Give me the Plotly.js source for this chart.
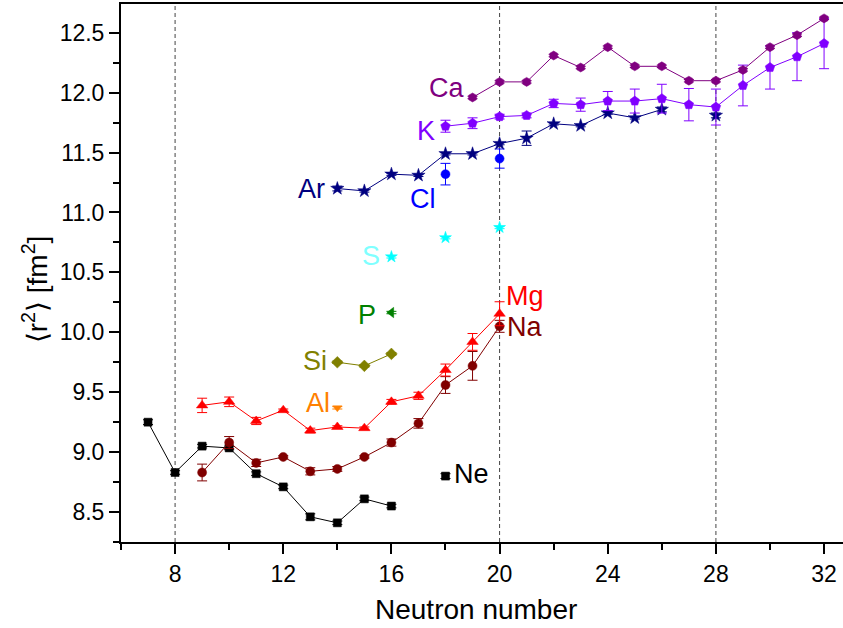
<!DOCTYPE html>
<html><head><meta charset="utf-8">
<script src="https://cdn.plot.ly/plotly-3.0.1.min.js"></script>
<style>body{margin:0;background:#fff}#chart{width:843px;height:628px}</style>
</head><body><div id="chart"></div>
<script>
// ---- data (neutron number N, <r^2> in fm^2, uncertainty) ----
const neN   = [7, 8, 9, 10, 11, 12, 13, 14, 15, 16];
const neR2  = [9.25, 8.83, 9.05, 9.035, 8.82, 8.71, 8.46, 8.41, 8.61, 8.55];
const neErr = [0.02, 0.015, 0.015, 0.015, 0.015, 0.015, 0.025, 0.015, 0.015, 0.015];
const ne2N = [18], ne2R2 = [8.80], ne2Err = [0.02];

const naN   = [9, 10, 11, 12, 13, 14, 15, 16, 17, 18, 19, 20];
const naR2  = [8.83, 9.08, 8.91, 8.96, 8.84, 8.86, 8.96, 9.08, 9.24, 9.56, 9.72, 10.05];
const naErr = [0.07, 0.05, 0.03, 0.01, 0.03, 0.02, 0.01, 0.03, 0.04, 0.07, 0.12, 0.05];

const mgN   = [9, 10, 11, 12, 13, 14, 15, 16, 17, 18, 19, 20];
const mgR2  = [9.39, 9.42, 9.26, 9.35, 9.18, 9.21, 9.20, 9.42, 9.47, 9.685, 9.92, 10.155];
const mgErr = [0.06, 0.04, 0.03, 0.01, 0.02, 0.01, 0.01, 0.02, 0.03, 0.05, 0.07, 0.10];

const alN = [14], alR2 = [9.37], alErr = [0.01];
const siN = [14, 15, 16], siR2 = [9.75, 9.72, 9.82], siErr = [0.01, 0.01, 0.01];
const pN = [16], pR2 = [10.165], pErr = [0.01];
const sN = [16, 18, 20], sR2 = [10.63, 10.79, 10.875], sErr = [0.01, 0.01, 0.01];
const clN = [18, 20], clR2 = [11.32, 11.45], clErr = [0.09, 0.08];

const arN   = [14, 15, 16, 17, 18, 19, 20, 21, 22, 23, 24, 25, 26];
const arR2  = [11.20, 11.18, 11.32, 11.31, 11.49, 11.49, 11.575, 11.62, 11.74, 11.725, 11.83, 11.79, 11.86];
const arErr = [0.02, 0.01, 0.01, 0.01, 0.01, 0.01, 0.01, 0.06, 0.01, 0.01, 0.01, 0.01, 0.02];
const ar2N = [28], ar2R2 = [11.81], ar2Err = [0.02];

const kN   = [18, 19, 20, 21, 22, 23, 24, 25, 26, 27, 28, 29, 30, 31, 32];
const kR2  = [11.72, 11.745, 11.80, 11.81, 11.91, 11.90, 11.93, 11.93, 11.95, 11.90, 11.88, 12.06, 12.21, 12.30, 12.41];
const kErr = [0.05, 0.045, 0.02, 0.02, 0.035, 0.055, 0.08, 0.1, 0.12, 0.135, 0.15, 0.17, 0.18, 0.2, 0.21];

const caN   = [19, 20, 21, 22, 23, 24, 25, 26, 27, 28, 29, 30, 31, 32];
const caR2  = [11.96, 12.09, 12.09, 12.31, 12.21, 12.38, 12.22, 12.22, 12.10, 12.10, 12.19, 12.38, 12.48, 12.62];
const caErr = [0.01, 0.01, 0.01, 0.01, 0.01, 0.01, 0.01, 0.01, 0.01, 0.01, 0.01, 0.01, 0.01, 0.01];

const shellClosures = [8, 20, 28];

// element labels
const labelText = ['Ca', 'K', 'Ar', 'Cl', 'S', 'P', 'Si', 'Al', 'Mg', 'Na', 'Ne'];
const labelN    = [18.02, 17.28, 13.05, 17.17, 15.26, 15.09, 13.16, 13.29, 20.94, 20.92, 18.98];
const labelR2   = [12.04, 11.68, 11.20, 11.115, 10.64, 10.145, 9.76, 9.413, 10.30, 10.044, 8.82];
const labelColor= ['#800080', '#8000ff', '#000080', '#0000ff', '#80ffff', '#008000', '#808000', '#ff8000', '#ff0000', '#800000', '#000000'];

const xTitle = 'Neutron number';
const yTitle = '⟨r<sup>2</sup>⟩ [fm<sup>2</sup>]';

// ---- traces ----
function tr(x, y, e, color, symbol, size, lines) {
  return {
    x: x, y: y, type: 'scatter', mode: lines ? 'lines+markers' : 'markers',
    line: {color: color, width: 1},
    marker: {color: color, symbol: symbol, size: size, line: {color: color, width: 0.5}},
    error_y: {type: 'data', array: e, visible: true, color: color, thickness: 1, width: 5},
    showlegend: false, cliponaxis: true
  };
}
const data = [
  tr(neN, neR2, neErr, '#000000', 'square', 8, true),
  tr(ne2N, ne2R2, ne2Err, '#000000', 'square', 8, false),
  tr(naN, naR2, naErr, '#800000', 'circle', 9, true),
  tr(mgN, mgR2, mgErr, '#ff0000', 'triangle-up', 10, true),
  tr(alN, alR2, alErr, '#ff8000', 'triangle-down', 8, false),
  tr(siN, siR2, siErr, '#808000', 'diamond', 9, true),
  tr(pN, pR2, pErr, '#008000', 'triangle-left', 9, false),
  tr(sN, sR2, sErr, '#00ffff', 'star', 9, false),
  tr(clN, clR2, clErr, '#0000ff', 'circle', 9, false),
  tr(arN, arR2, arErr, '#000080', 'star', 10, true),
  tr(ar2N, ar2R2, ar2Err, '#000080', 'star', 10, false),
  tr(kN, kR2, kErr, '#8000ff', 'pentagon', 10, true),
  tr(caN, caR2, caErr, '#800080', 'hexagon', 9, true)
];

const annotations = labelText.map((t, i) => ({
  x: labelN[i], y: labelR2[i], xref: 'x', yref: 'y', text: t, showarrow: false,
  xanchor: 'center', yanchor: 'middle',
  font: {family: 'Liberation Sans, Arial, sans-serif', size: 27, color: labelColor[i]}
}));
annotations.push({
  x: 0.491, y: -0.125, xref: 'paper', yref: 'paper', text: xTitle, showarrow: false,
  xanchor: 'center', yanchor: 'middle',
  font: {family: 'Liberation Sans, Arial, sans-serif', size: 28, color: '#000'}
});
annotations.push({
  x: -0.119, y: 0.47, xref: 'paper', yref: 'paper', text: yTitle, showarrow: false,
  textangle: -90, xanchor: 'center', yanchor: 'middle',
  font: {family: 'Liberation Sans, Arial, sans-serif', size: 28, color: '#000'}
});

const shapes = shellClosures.map(n => ({
  type: 'line', xref: 'x', yref: 'paper', x0: n, x1: n, y0: 0, y1: 1,
  line: {color: '#444444', width: 1, dash: '4px,3px'}, layer: 'below'
}));

const layout = {
  width: 843, height: 628,
  margin: {l: 121, r: 0, t: 4, b: 86},
  paper_bgcolor: '#ffffff', plot_bgcolor: '#ffffff',
  font: {family: 'Liberation Sans, Arial, sans-serif', color: '#000'},
  xaxis: {
    range: [6, 32.7], tickmode: 'linear', tick0: 0, dtick: 4,
    ticks: 'outside', ticklen: 10, tickwidth: 2, tickcolor: '#000',
    minor: {dtick: 2, tick0: 0, ticks: 'outside', ticklen: 6, tickwidth: 2, tickcolor: '#000'},
    showline: true, linewidth: 2, linecolor: '#000', mirror: true,
    showgrid: false, zeroline: false, tickfont: {size: 23}
  },
  yaxis: {
    range: [8.25, 12.74], tickmode: 'linear', tick0: 0, dtick: 0.5, tickformat: '.1f',
    ticks: 'outside', ticklen: 10, tickwidth: 2, tickcolor: '#000',
    minor: {dtick: 0.25, tick0: 0, ticks: 'outside', ticklen: 6, tickwidth: 2, tickcolor: '#000'},
    showline: true, linewidth: 2, linecolor: '#000', mirror: true,
    showgrid: false, zeroline: false, tickfont: {size: 23}, ticklabelstandoff: 0
  },
  annotations: annotations,
  shapes: shapes
};

Plotly.newPlot('chart', data, layout, {displayModeBar: false, staticPlot: true});
</script>
</body></html>
